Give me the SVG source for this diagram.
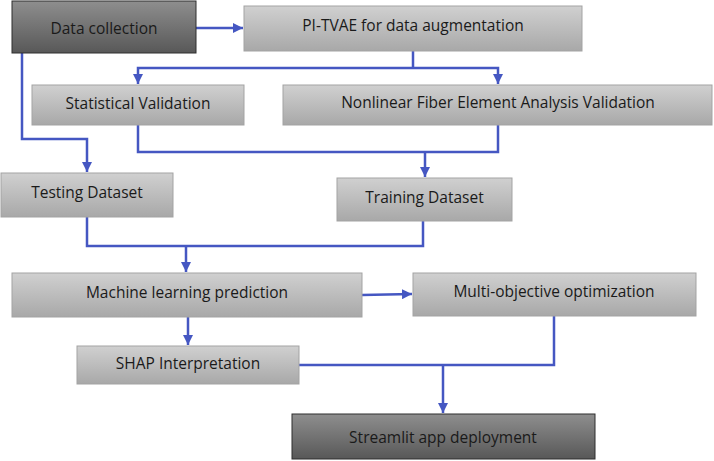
<svg xmlns="http://www.w3.org/2000/svg" width="714" height="461" viewBox="0 0 714 461">
<defs>
<linearGradient id="gLight" x1="0" y1="0" x2="0" y2="1">
<stop offset="0" stop-color="#d0d0d0"/>
<stop offset="1" stop-color="#a8a8a8"/>
</linearGradient>
<linearGradient id="gDark" x1="0" y1="0" x2="0" y2="1">
<stop offset="0" stop-color="#8e8e8e"/>
<stop offset="1" stop-color="#585858"/>
</linearGradient>
<marker id="arr" viewBox="0 0 10 10" refX="10" refY="5" markerWidth="4" markerHeight="4" orient="auto" markerUnits="strokeWidth">
<path d="M0,0 L10,5 L0,10 z" fill="#4557c2"/>
</marker>
<style>
.light{fill:url(#gLight);stroke:#a3a3a3;stroke-width:1}
.dark{fill:url(#gDark);stroke:#2e2e2e;stroke-width:1}
.lbl{font-family:"Open Sans","Liberation Sans",sans-serif;font-size:15.5px;fill:#1a1a1a;text-anchor:middle;dominant-baseline:central}
.con{fill:none;stroke:#4557c2;stroke-width:2.5;stroke-linejoin:miter}
.arr{marker-end:url(#arr)}
</style>
</defs>
<g id="connectors">
<path class="con arr" d="M196,28 L243,28"/>
<path class="con" d="M413,51 L413,68"/>
<path class="con arr" d="M413,68 L138,68 L138,84"/>
<path class="con arr" d="M413,68 L498,68 L498,84"/>
<path class="con arr" d="M22,53 L22,139 L87,139 L87,172"/>
<path class="con" d="M138,125 L138,152 L498,152 L498,125"/>
<path class="con arr" d="M425,152 L425,177"/>
<path class="con" d="M87,217 L87,246 L423,246 L423,221"/>
<path class="con arr" d="M186,246 L186,272"/>
<path class="con arr" d="M362,295 L412,294"/>
<path class="con arr" d="M188,317 L188,345"/>
<path class="con" d="M299,365 L554,365 L554,316"/>
<path class="con arr" d="M443,365 L443,413"/>
</g>
<g id="data-collection">
<rect class="dark" x="12" y="1" width="184" height="52"/>
<text class="lbl" x="104" y="28">Data collection</text>
</g>
<g id="pi-tvae">
<rect class="light" x="244" y="6" width="338" height="45"/>
<text class="lbl" x="413" y="25">PI-TVAE for data augmentation</text>
</g>
<g id="statistical-validation">
<rect class="light" x="32" y="85" width="212" height="40"/>
<text class="lbl" x="138" y="103">Statistical Validation</text>
</g>
<g id="nonlinear-validation">
<rect class="light" x="283" y="85" width="429" height="40"/>
<text class="lbl" x="498" y="102">Nonlinear Fiber Element Analysis Validation</text>
</g>
<g id="testing-dataset">
<rect class="light" x="1" y="173" width="172" height="44"/>
<text class="lbl" x="87" y="192">Testing Dataset</text>
</g>
<g id="training-dataset">
<rect class="light" x="337" y="178" width="175" height="43"/>
<text class="lbl" x="424.5" y="197">Training Dataset</text>
</g>
<g id="ml-prediction">
<rect class="light" x="12" y="273" width="350" height="44"/>
<text class="lbl" x="187" y="292">Machine learning prediction</text>
</g>
<g id="multi-objective">
<rect class="light" x="413" y="273" width="283" height="43"/>
<text class="lbl" x="554" y="291">Multi-objective optimization</text>
</g>
<g id="shap">
<rect class="light" x="77" y="346" width="222" height="38"/>
<text class="lbl" x="188" y="363">SHAP Interpretation</text>
</g>
<g id="streamlit">
<rect class="dark" x="292" y="414" width="303" height="45"/>
<text class="lbl" x="443" y="437">Streamlit app deployment</text>
</g>
</svg>
